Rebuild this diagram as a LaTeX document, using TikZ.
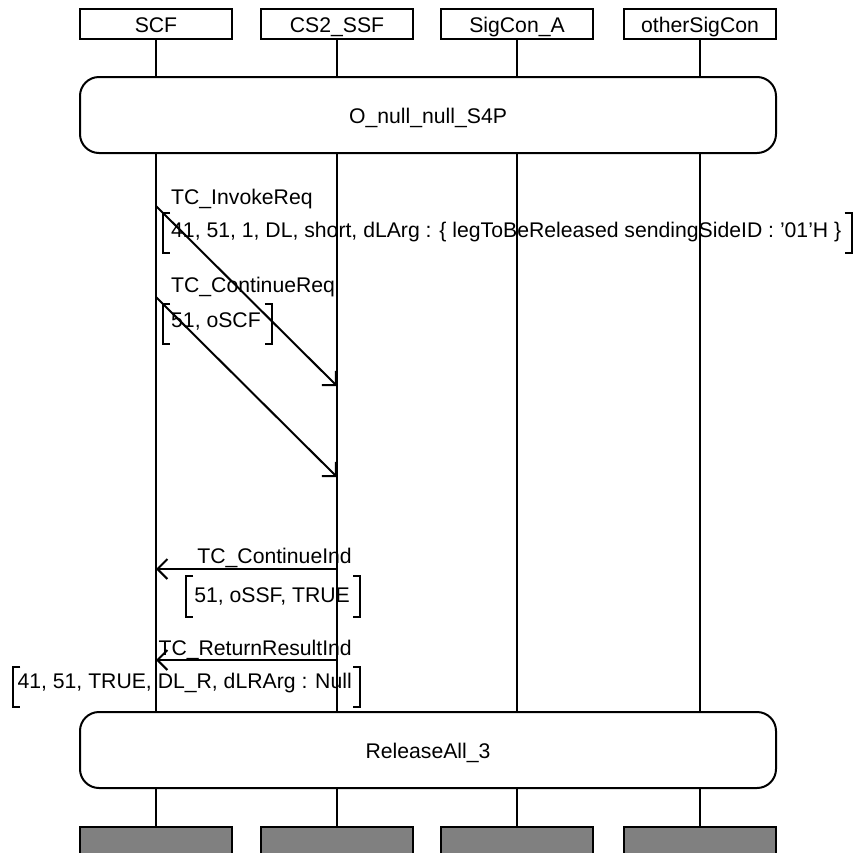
\documentclass[tikz,border=0pt]{standalone}
\usepackage{fontspec}
\setmainfont{Liberation Sans}
\usetikzlibrary{arrows.meta}
\definecolor{boxgray}{RGB}{128,128,128}
\newcommand\lbr[2]{\draw[ln] ([xshift=-#2+7pt]#1.north west) -- ([xshift=-#2]#1.north west) -- ([xshift=-#2]#1.south west) -- ([xshift=-#2+7pt]#1.south west);}
\newcommand\rbr[2]{\draw[ln] ([xshift=#2-7pt]#1.north east) -- ([xshift=#2]#1.north east) -- ([xshift=#2]#1.south east) -- ([xshift=#2-7pt]#1.south east);}
\begin{document}
\begin{tikzpicture}[x=1pt,y=-1pt,
  every node/.style={font=\fontsize{21.2}{25}\selectfont},
  ln/.style={line width=2pt},
  hdr/.style={draw,line width=2pt,minimum width=152pt,minimum height=30pt,inner sep=0pt,text height=20pt,text depth=4pt},
  rbox/.style={draw,line width=2pt,rounded corners=19pt,minimum width=696pt,minimum height=76pt,inner sep=0pt,text height=20pt,text depth=4pt},
  gbox/.style={draw,fill=boxgray,line width=2pt,minimum width=152pt,minimum height=60pt,anchor=north},
  msg/.style={inner sep=0pt},
  prm/.style={inner sep=0pt,text height=24pt,text depth=16pt},
  arr/.style={line width=2pt,-{Straight Barb[length=10pt,width=20pt]}}]
\path[use as bounding box] (0,0) rectangle (854,852);
\clip (0,0) rectangle (854,852);

% headers
\node[hdr] (h1) at (156,24) {SCF};
\node[hdr] (h2) at (337,24) {CS2\_SSF};
\node[hdr] (h3) at (517,24) {SigCon\_A};
\node[hdr] (h4) at (700,24) {otherSigCon};

% condition boxes
\node[rbox] (o1) at (428,115) {O\_null\_null\_S4P};
\node[rbox] (r1) at (428,750) {ReleaseAll\_3};

% end boxes
\node[gbox] (g1) at (156,826) {};
\node[gbox] (g2) at (337,826) {};
\node[gbox] (g3) at (517,826) {};
\node[gbox] (g4) at (700,826) {};

% lifelines
\foreach \i in {1,2,3,4}{
  \draw[ln] (h\i.south) -- (h\i.south |- o1.north);
  \draw[ln] (h\i.south |- o1.south) -- (h\i.south |- r1.north);
  \draw[ln] (h\i.south |- r1.south) -- (g\i.north);
}

% message coordinates
\coordinate (m1a) at (156,206);
\coordinate (m1b) at (337,386);
\coordinate (m2a) at (156,297);
\coordinate (m2b) at (337,477);
\coordinate (m3a) at (337,569);
\coordinate (m3b) at (156,569);
\coordinate (m4a) at (337,660);
\coordinate (m4b) at (156,660);

% message labels
\node[msg,anchor=base west] (l1) at (171,204) {TC\_InvokeReq};
\node[prm,anchor=base west] (p1) at (171,237) {41, 51, 1, DL, short, dLArg : \{ legToBeReleased sendingSideID : ’01’H \}};
\lbr{p1}{8pt}\rbr{p1}{10pt}

\node[msg,anchor=base west] (l2) at (171,292) {TC\_ContinueReq};
\node[prm,anchor=base west,text height=23pt,text depth=17pt] (p2) at (171,327) {51, oSCF};
\lbr{p2}{8pt}\rbr{p2}{11pt}

\node[msg,anchor=base east] (l3) at (352,563) {TC\_ContinueInd};
\node[prm,anchor=base east,text height=26pt,text depth=15pt] (p3) at (350,602) {51, oSSF, TRUE};
\lbr{p3}{8pt}\rbr{p3}{10pt}

\node[msg,anchor=base east] (l4) at (352,655) {TC\_ReturnResultInd};
\node[prm,anchor=base east,text height=21pt,text depth=19pt] (p4) at (352,688) {41, 51, TRUE, DL\_R, dLRArg : Null};
\lbr{p4}{4pt}\rbr{p4}{8pt}

% messages
\draw[arr] (m1a) -- (m1b);
\draw[arr] (m2a) -- (m2b);
\draw[arr] (m3a) -- (m3b);
\draw[arr] (m4a) -- (m4b);
\end{tikzpicture}
\end{document}
